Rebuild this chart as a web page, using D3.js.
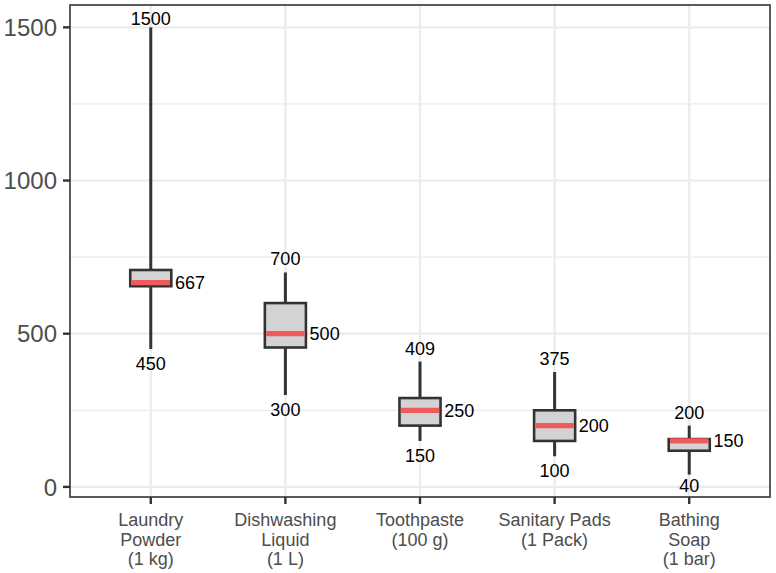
<!DOCTYPE html>
<html><head><meta charset="utf-8">
<script src="https://cdn.jsdelivr.net/npm/d3@7"></script>
<style>body{margin:0;background:#fff;} svg{display:block;}</style>
</head><body>
<svg id="chart" width="776" height="573"></svg>
<script>
const categories = [["Laundry","Powder","(1 kg)"],["Dishwashing","Liquid","(1 L)"],["Toothpaste","(100 g)"],["Sanitary Pads","(1 Pack)"],["Bathing","Soap","(1 bar)"]];
const minVals = [450, 300, 150, 100, 40];
const q1Vals = [655, 455, 200, 150, 118];
const medVals = [667, 500, 250, 200, 150];
const q3Vals = [708, 600, 290, 250, 156];
const maxVals = [1500, 700, 409, 375, 200];
const yTicks = [0, 500, 1000, 1500];
const yMinorTicks = [250, 750, 1250];

const font = "'Liberation Sans', Arial, Helvetica, sans-serif";
const svg = d3.select("#chart");
const L = 70, R = 770, T = 5, B = 497;
const keys = categories.map((c, i) => i);
const x = d3.scalePoint().domain(keys).range([L, R]).padding(0.6);
const step = x.step();
const y = d3.scaleLinear().domain([-33, 1573]).range([B, T]);
const boxW = step * 0.305;

// gridlines
const g = svg.append("g");
g.selectAll(".minor").data(yMinorTicks).join("line")
  .attr("x1", L).attr("x2", R).attr("y1", d => y(d)).attr("y2", d => y(d))
  .attr("stroke", "#ebebeb").attr("stroke-width", 1.2);
g.selectAll(".major").data(yTicks).join("line")
  .attr("x1", L).attr("x2", R).attr("y1", d => y(d)).attr("y2", d => y(d))
  .attr("stroke", "#ebebeb").attr("stroke-width", 2.2);
g.selectAll(".vmajor").data(keys).join("line")
  .attr("x1", d => x(d)).attr("x2", d => x(d)).attr("y1", T).attr("y2", B)
  .attr("stroke", "#ebebeb").attr("stroke-width", 2.2);

// boxes
const data = keys.map(i => ({i, min: minVals[i], q1: q1Vals[i], med: medVals[i], q3: q3Vals[i], max: maxVals[i]}));
const bx = svg.append("g").selectAll("g").data(data).join("g");
bx.append("line").attr("x1", d => x(d.i)).attr("x2", d => x(d.i))
  .attr("y1", d => y(d.q3)).attr("y2", d => y(d.max)).attr("stroke", "#333").attr("stroke-width", 3);
bx.append("line").attr("x1", d => x(d.i)).attr("x2", d => x(d.i))
  .attr("y1", d => y(d.q1)).attr("y2", d => y(d.min)).attr("stroke", "#333").attr("stroke-width", 3);
bx.append("rect").attr("x", d => x(d.i) - boxW / 2).attr("width", boxW)
  .attr("y", d => y(d.q3)).attr("height", d => y(d.q1) - y(d.q3))
  .attr("fill", "#d3d3d4").attr("stroke", "#333").attr("stroke-width", 2.6);
bx.append("line").attr("x1", d => x(d.i) - boxW / 2 + 1.3).attr("x2", d => x(d.i) + boxW / 2 - 1.3)
  .attr("y1", d => y(d.med)).attr("y2", d => y(d.med))
  .attr("stroke", "#ef5a5a").attr("stroke-width", 5.3);

// labels
const lab = svg.append("g").attr("font-family", font).attr("font-size", 18).attr("fill", "#000");
lab.selectAll(".mx").data(data).join("text")
  .attr("x", d => x(d.i)).attr("y", d => Math.max(y(d.max) - 7, 25))
  .attr("text-anchor", "middle").text(d => d.max);
lab.selectAll(".mn").data(data).join("text")
  .attr("x", d => x(d.i)).attr("y", d => Math.min(y(d.min) + 21, 492))
  .attr("text-anchor", "middle").text(d => d.min);
lab.selectAll(".md").data(data).join("text")
  .attr("x", d => x(d.i) + step * 0.18).attr("y", d => y(d.med))
  .attr("dy", "0.36em").attr("text-anchor", "start").text(d => d.med);

// panel border
svg.append("rect").attr("x", L).attr("y", T).attr("width", R - L).attr("height", B - T)
  .attr("fill", "none").attr("stroke", "#333").attr("stroke-width", 1.6);

// y axis
const ya = svg.append("g");
ya.selectAll("line").data(yTicks).join("line")
  .attr("x1", L - 7).attr("x2", L).attr("y1", d => y(d)).attr("y2", d => y(d))
  .attr("stroke", "#333").attr("stroke-width", 2.4);
ya.selectAll("text").data(yTicks).join("text")
  .attr("x", L - 13).attr("y", d => y(d)).attr("dy", "0.36em")
  .attr("text-anchor", "end").attr("font-family", font).attr("font-size", 24)
  .attr("fill", "#4d4d4d").text(d => d);

// x axis
const xa = svg.append("g");
xa.selectAll("line").data(keys).join("line")
  .attr("x1", d => x(d)).attr("x2", d => x(d)).attr("y1", B).attr("y2", B + 7)
  .attr("stroke", "#333").attr("stroke-width", 2.4);
xa.selectAll("text").data(keys).join("text")
  .attr("x", d => x(d)).attr("y", 526)
  .attr("text-anchor", "middle").attr("font-family", font).attr("font-size", 18)
  .attr("fill", "#4d4d4d")
  .each(function(d) {
    const t = d3.select(this);
    categories[d].forEach((line, k) => {
      t.append("tspan").attr("x", x(d)).attr("y", 526 + k * 19.5).text(line);
    });
  });
</script>
</body></html>
